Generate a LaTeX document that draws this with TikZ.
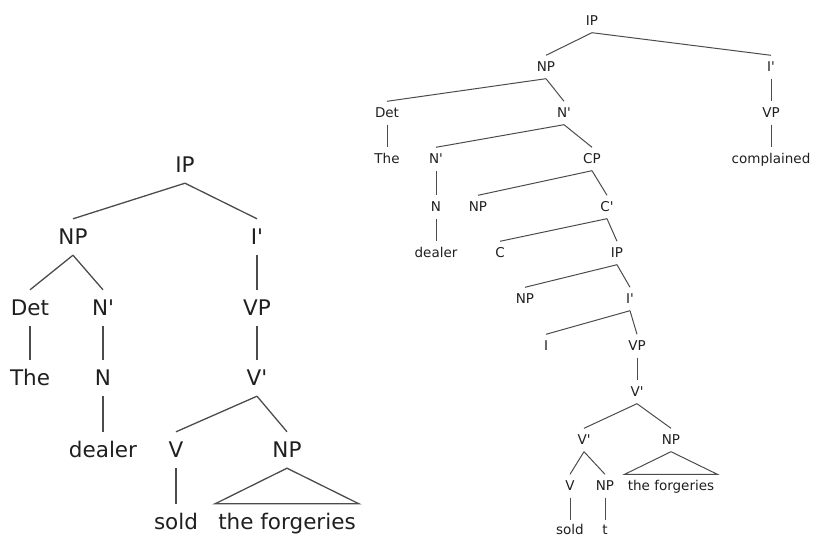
\documentclass[tikz,border=0pt]{standalone}
\usepackage{fontspec}
\setmainfont{DejaVu Sans}[Ligatures=TeXOff]
\begin{document}
\begin{tikzpicture}[x=1pt,y=-1pt,
  big/.style={inner sep=0pt, minimum height=36pt, text height=15.5pt, text depth=0pt,
    text=black!88, font=\fontsize{21.5}{21.5}\selectfont},
  small/.style={inner sep=0pt, minimum height=23pt, text height=9.8pt, text depth=0pt,
    text=black!88, font=\fontsize{13.5}{13.5}\selectfont},
  smallleaf/.style={small, minimum height=19pt},
  bigedge/.style={draw=black!70, line width=1.3pt},
  smalledge/.style={draw=black!70, line width=1pt}]
\useasboundingbox (0,0) rectangle (815,537);

% ---- simple clause: The dealer sold the forgeries
\node[big] (lIP)   at (185,165) {IP};
\node[big] (lNP)   at (73,237)  {NP};
\node[big] (lIb)   at (257,237) {I'};
\node[big] (lDet)  at (30,308)  {Det};
\node[big] (lNb)   at (103,308) {N'};
\node[big] (lThe)  at (30,378)  {The};
\node[big] (lN)    at (103,378) {N};
\node[big] (ldeal) at (103,450) {dealer};
\node[big] (lVP)   at (257,308) {VP};
\node[big] (lVb)   at (257,378) {V'};
\node[big] (lV)    at (176,450) {V};
\node[big] (lNPo)  at (287,450) {NP};
\node[big] (lsold) at (176,522) {sold};
\node[big] (lforg) at (287,522) {the forgeries};

\path[bigedge] (lIP.south) -- (lNP.north);
\path[bigedge] (lIP.south) -- (lIb.north);
\path[bigedge] (lNP.south) -- (lDet.north);
\path[bigedge] (lNP.south) -- (lNb.north);
\path[bigedge] (lDet.south) -- (lThe.north);
\path[bigedge] (lNb.south) -- (lN.north);
\path[bigedge] (lN.south) -- (ldeal.north);
\path[bigedge] (lIb.south) -- (lVP.north);
\path[bigedge] (lVP.south) -- (lVb.north);
\path[bigedge] (lVb.south) -- (lV.north);
\path[bigedge] (lVb.south) -- (lNPo.north);
\path[bigedge] (lV.south) -- (lsold.north);
\path[bigedge] (lNPo.south) -- ([xshift=-3pt]lforg.north west)
  -- ([xshift=3pt]lforg.north east) -- cycle;

% ---- reduced relative: The dealer sold the forgeries complained
\node[small] (rIP)    at (592,21)  {IP};
\node[small] (rNP)    at (546,67)  {NP};
\node[small] (rIb)    at (771,67)  {I'};
\node[small] (rDet)   at (387,113) {Det};
\node[small] (rNb)    at (564,113) {N'};
\node[small] (rVPm)   at (771,113) {VP};
\node[small] (rThe)   at (387,159) {The};
\node[small] (rNc)    at (436,159) {N'};
\node[small] (rCP)    at (592,159) {CP};
\node[small] (rcompl) at (771,159) {complained};
\node[small] (rN)     at (436,207) {N};
\node[small] (rNPc)   at (478,207) {NP};
\node[small] (rCb)    at (607,207) {C'};
\node[small] (rdeal)  at (436,253) {dealer};
\node[small] (rC)     at (500,253) {C};
\node[small] (rIPr)   at (617,253) {IP};
\node[small] (rNPs)   at (525,299) {NP};
\node[small] (rIr)    at (630,299) {I'};
\node[small] (rI)     at (546,346) {I};
\node[small] (rVP)    at (637,346) {VP};
\node[small] (rVb)    at (637,392) {V'};
\node[small] (rVc)    at (584,440) {V'};
\node[small] (rNPo)   at (671,440) {NP};
\node[small] (rV)     at (570,486) {V};
\node[small] (rNPt)   at (605,486) {NP};
\node[small] (rforg)  at (671,486) {the forgeries};
\node[smallleaf] (rsold) at (570,530) {sold};
\node[smallleaf] (rt)    at (605,530) {t};

\path[smalledge] (rIP.south) -- (rNP.north);
\path[smalledge] (rIP.south) -- (rIb.north);
\path[smalledge] (rIb.south) -- (rVPm.north);
\path[smalledge] (rVPm.south) -- (rcompl.north);
\path[smalledge] (rNP.south) -- (rDet.north);
\path[smalledge] (rNP.south) -- (rNb.north);
\path[smalledge] (rDet.south) -- (rThe.north);
\path[smalledge] (rNb.south) -- (rNc.north);
\path[smalledge] (rNb.south) -- (rCP.north);
\path[smalledge] (rNc.south) -- (rN.north);
\path[smalledge] (rN.south) -- (rdeal.north);
\path[smalledge] (rCP.south) -- (rNPc.north);
\path[smalledge] (rCP.south) -- (rCb.north);
\path[smalledge] (rCb.south) -- (rC.north);
\path[smalledge] (rCb.south) -- (rIPr.north);
\path[smalledge] (rIPr.south) -- (rNPs.north);
\path[smalledge] (rIPr.south) -- (rIr.north);
\path[smalledge] (rIr.south) -- (rI.north);
\path[smalledge] (rIr.south) -- (rVP.north);
\path[smalledge] (rVP.south) -- (rVb.north);
\path[smalledge] (rVb.south) -- (rVc.north);
\path[smalledge] (rVb.south) -- (rNPo.north);
\path[smalledge] (rVc.south) -- (rV.north);
\path[smalledge] (rVc.south) -- (rNPt.north);
\path[smalledge] (rV.south) -- (rsold.north);
\path[smalledge] (rNPt.south) -- (rt.north);
\path[smalledge] (rNPo.south) -- ([xshift=-3pt]rforg.north west)
  -- ([xshift=3pt]rforg.north east) -- cycle;
\end{tikzpicture}
\end{document}
